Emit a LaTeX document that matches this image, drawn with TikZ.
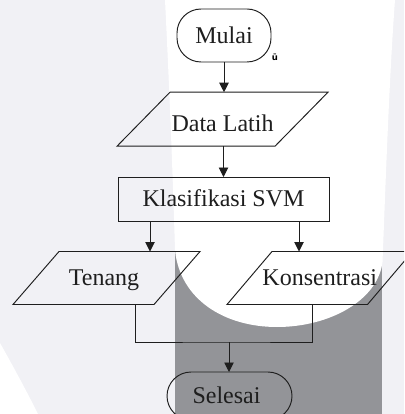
\documentclass[tikz,border=0pt]{standalone}
\usepackage{fontspec}
\setmainfont{Liberation Serif}
\newfontfamily\markfont{DejaVu Sans}
\usetikzlibrary{arrows.meta,calc}
\definecolor{wmlight}{RGB}{241,241,245}
\definecolor{wmdark}{RGB}{147,148,152}
\definecolor{ink}{RGB}{30,30,30}
\tikzset{
  line/.style={draw=ink, line width=0.95pt},
  arr/.style={line, -{Triangle[width=9.5pt,length=9.5pt]}},
  base/.style={text=ink, font=\fontsize{24}{28}\selectfont, text height=15.9pt, text depth=0pt, inner sep=0pt, outer sep=0pt},
  term/.style={base, line, rounded corners=24pt},
  proc/.style={base, line},
  iotext/.style={base}
}
\newcommand\paral[2]{\draw[line] ([xshift=#2]#1.north west) -- ([xshift=#2]#1.north east) -- ([xshift=-#2]#1.south east) -- ([xshift=-#2]#1.south west) -- cycle;}
\begin{document}
\begin{tikzpicture}[x=1pt,y=-1pt]
\useasboundingbox (0,0) rectangle (404,414);
\begin{scope}
\clip (0,0) rectangle (404,414);
% watermark background
\fill[wmlight] (0,0) rectangle (404,414);
\fill[wmdark] (175,248) rectangle (382,414);
\fill[white] (165,0) -- (395,0) .. controls (389,80) and (385,200) .. (382.5,262)
  .. controls (378,300) and (330,327) .. (277,327)
  .. controls (225,327) and (180,300) .. (175,250)
  .. controls (172,150) and (168,60) .. (165,0) -- cycle;
\fill[white] (0,343) .. controls (13,366) and (26,390) .. (38,414) -- (0,414) -- cycle;

% nodes
\node[term, minimum width=94pt, minimum height=53pt] (mulai) at (224,35.5) {Mulai};
\node[iotext, minimum width=158pt, minimum height=54pt] (data) at (222.5,119.2) {\raisebox{-4pt}{Data Latih}};
\paral{data}{26.5pt}
\node[proc, minimum width=211pt, minimum height=44pt] (svm) at (223.5,199) {Klasifikasi SVM};
\node[iotext, minimum width=141pt, minimum height=53pt] (tenang) at (106.5,278) {\kern-5pt Tenang};
\paral{tenang}{23pt}
\node[iotext, minimum width=140.5pt, minimum height=53pt] (kons) at (319.75,278) {Konsentrasi};
\paral{kons}{22.5pt}
\node[term, minimum width=125pt, minimum height=48pt] (selesai) at (229.5,396) {\kern-6pt Selesai};
\node[font=\markfont\bfseries\fontsize{8.5}{8.5}\selectfont, text=black, inner sep=0pt] (mark) at (275,57) {ū};

% connectors
\draw[arr] (mulai.south) -- (mulai.south |- data.north);
\draw[arr] (svm.north |- data.south) -- (svm.north);
\draw[arr] ([xshift=-73.5pt]svm.south) -- ([xshift=-73.5pt]svm.south |- tenang.north);
\draw[arr] ([xshift=75.5pt]svm.south) -- ([xshift=75.5pt]svm.south |- kons.north);
\coordinate (join) at (229,342);
\draw[line] ([xshift=28.5pt]tenang.south) |- (join) -| ([xshift=-7.75pt]kons.south);
\draw[arr] (join) -- (join |- selesai.north);
\end{scope}
\end{tikzpicture}
\end{document}
